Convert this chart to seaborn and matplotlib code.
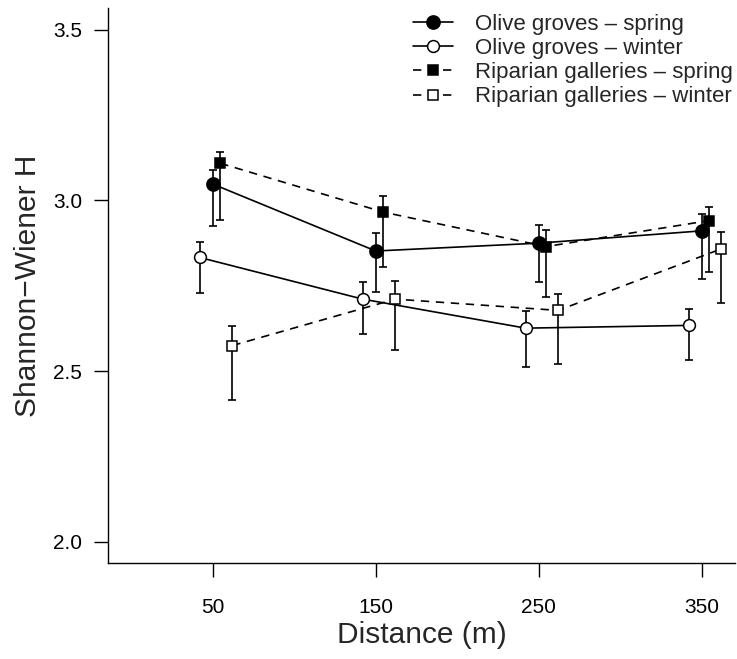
import pandas as pd
import matplotlib
matplotlib.use("Agg")
import matplotlib.pyplot as plt
from matplotlib.lines import Line2D
import seaborn as sns

# Data (mean with lower / upper error limits)
distance = [50, 150, 250, 350]

olive_spring = [3.048, 2.852, 2.875, 2.911]
olive_spring_lo = [2.924, 2.733, 2.760, 2.770]
olive_spring_hi = [3.088, 2.904, 2.928, 2.961]

olive_winter = [2.833, 2.711, 2.626, 2.634]
olive_winter_lo = [2.729, 2.609, 2.513, 2.533]
olive_winter_hi = [2.878, 2.760, 2.677, 2.682]

riparian_spring = [3.109, 2.966, 2.865, 2.941]
riparian_spring_lo = [2.943, 2.804, 2.716, 2.790]
riparian_spring_hi = [3.143, 3.012, 2.914, 2.980]

riparian_winter = [2.575, 2.711, 2.678, 2.858]
riparian_winter_lo = [2.416, 2.562, 2.521, 2.701]
riparian_winter_hi = [2.631, 2.765, 2.726, 2.909]

labels = ["Olive groves \u2013 spring", "Olive groves \u2013 winter",
          "Riparian galleries \u2013 spring", "Riparian galleries \u2013 winter"]

series = [
    (olive_spring, olive_spring_lo, olive_spring_hi),
    (olive_winter, olive_winter_lo, olive_winter_hi),
    (riparian_spring, riparian_spring_lo, riparian_spring_hi),
    (riparian_winter, riparian_winter_lo, riparian_winter_hi),
]

rows = []
for lab, (m, lo, hi) in zip(labels, series):
    for d, a, b, c in zip(distance, m, lo, hi):
        rows.append({"group": lab, "distance": d, "H": a, "lo": b, "hi": c})
df = pd.DataFrame(rows)

# styling: dodge offset (m), marker, fill, marker size, line style
dash = (0, (5, 4))
styles = {
    labels[0]: dict(off=0.0, marker="o", fc="black", ms=9.5, ls="-"),
    labels[1]: dict(off=-8.0, marker="o", fc="white", ms=8.5, ls="-"),
    labels[2]: dict(off=4.6, marker="s", fc="black", ms=7, ls=dash),
    labels[3]: dict(off=12.0, marker="s", fc="white", ms=7, ls=dash),
}

sns.set_style("ticks")
plt.rcParams["font.family"] = ["Liberation Sans", "DejaVu Sans"]

fig = plt.figure(figsize=(7.37, 6.59), dpi=100)
ax = fig.add_axes([0.1465, 0.1457, 0.8507, 0.8422])

handles = []
for lab in labels:
    st = styles[lab]
    sub = df[df["group"] == lab].copy()
    sub["x"] = sub["distance"] + st["off"]
    ax.errorbar(sub["x"], sub["H"],
                yerr=[sub["H"] - sub["lo"], sub["hi"] - sub["H"]],
                fmt="none", ecolor="black", elinewidth=1.2, capsize=3.2,
                capthick=1.2, zorder=2)
    sns.lineplot(data=sub, x="x", y="H", ax=ax, color="black", sort=False,
                 linewidth=1.2, linestyle=st["ls"], marker=st["marker"],
                 markersize=st["ms"], markerfacecolor=st["fc"],
                 markeredgecolor="black", markeredgewidth=1.1, zorder=3)
    handles.append(Line2D([], [], color="black", linewidth=1.2, linestyle=st["ls"],
                          marker=st["marker"], markersize=st["ms"],
                          markerfacecolor=st["fc"], markeredgecolor="black",
                          markeredgewidth=1.1))

ax.set_xlim(-14.4, 370.5)
ax.set_ylim(1.938, 3.564)
ax.set_xticks(distance)
ax.set_yticks([2.0, 2.5, 3.0, 3.5])
ax.set_yticklabels(["2.0", "2.5", "3.0", "3.5"])
ax.tick_params(axis="both", direction="out", length=10, width=1.0,
               labelsize=15, color="black", labelcolor="black")
ax.tick_params(axis="x", pad=15)
ax.tick_params(axis="y", pad=8.5)
for s in ["top", "right"]:
    ax.spines[s].set_visible(False)
for s in ["left", "bottom"]:
    ax.spines[s].set_color("black")
    ax.spines[s].set_linewidth(1.0)

ax.set_xlabel("Distance (m)", fontsize=21.5, labelpad=3)
ax.set_ylabel("Shannon\u2212Wiener H", fontsize=21.5, labelpad=8)

ax.legend(handles, labels, loc="upper left", bbox_to_anchor=(413 / 737, 1 - 14 / 659),
          bbox_transform=fig.transFigure, frameon=False, fontsize=16,
          handlelength=1.8, handletextpad=1.0, labelspacing=0.14,
          borderaxespad=0.0, borderpad=0.0)

fig.savefig("out.png", dpi=100)
